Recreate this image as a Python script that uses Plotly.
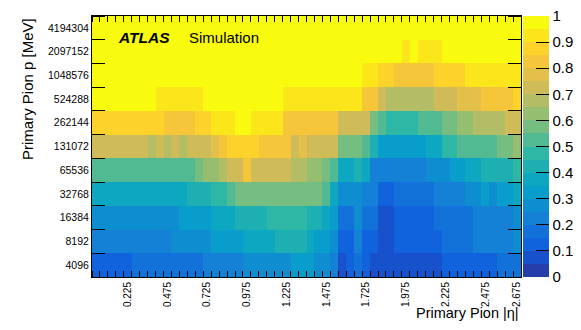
import numpy as np
import plotly.graph_objects as go

# |eta| bins (0.05 wide) and momentum bins (powers of two)
eta_edges = np.round(np.arange(0, 2.7001, 0.05), 3)
p_labels = ["4096", "8192", "16384", "32768", "65536", "131072",
            "262144", "524288", "1048576", "2097152", "4194304"]
eta_labels = ["0.225", "0.475", "0.725", "0.975", "1.225", "1.475",
              "1.725", "1.975", "2.225", "2.475", "2.675"]
eta_label_pos = [0.225, 0.475, 0.725, 0.975, 1.225, 1.475,
                 1.725, 1.975, 2.225, 2.475, 2.675]
z_ticks = [0, 0.1, 0.2, 0.3, 0.4, 0.5, 0.6, 0.7, 0.8, 0.9, 1]
z_ticktext = ["0", "0.1", "0.2", "0.3", "0.4", "0.5", "0.6", "0.7", "0.8", "0.9", "1"]

# efficiency per |eta| bin, one list per momentum bin
p_4096 = [0.13, 0.13, 0.13, 0.13, 0.13, 0.18, 0.18, 0.18, 0.18, 0.18, 0.18, 0.18, 0.18, 0.18,
          0.23, 0.23, 0.23, 0.23, 0.23, 0.28, 0.28, 0.28, 0.28, 0.28, 0.28, 0.33, 0.33, 0.33,
          0.28, 0.28, 0.23, 0.08, 0.13, 0.18, 0.13, 0.08, 0.08, 0.08, 0.08, 0.08, 0.08, 0.08,
          0.08, 0.08, 0.13, 0.13, 0.13, 0.13, 0.13, 0.13, 0.13, 0.18, 0.18, 0.18]
p_8192 = [0.23, 0.23, 0.23, 0.23, 0.23, 0.23, 0.23, 0.23, 0.23, 0.23, 0.28, 0.28, 0.28, 0.28,
          0.28, 0.33, 0.33, 0.33, 0.33, 0.38, 0.38, 0.38, 0.38, 0.43, 0.43, 0.43, 0.43, 0.38,
          0.33, 0.33, 0.28, 0.13, 0.13, 0.23, 0.13, 0.13, 0.08, 0.08, 0.13, 0.13, 0.13, 0.13,
          0.13, 0.13, 0.18, 0.18, 0.18, 0.18, 0.23, 0.23, 0.23, 0.23, 0.23, 0.28]
p_16384 = [0.28, 0.28, 0.28, 0.28, 0.28, 0.28, 0.28, 0.28, 0.28, 0.28, 0.28, 0.33, 0.33, 0.33,
           0.33, 0.38, 0.38, 0.38, 0.43, 0.43, 0.43, 0.43, 0.48, 0.48, 0.48, 0.48, 0.48, 0.43,
           0.43, 0.38, 0.33, 0.18, 0.18, 0.28, 0.18, 0.18, 0.08, 0.08, 0.13, 0.13, 0.13, 0.13,
           0.13, 0.18, 0.18, 0.18, 0.18, 0.18, 0.23, 0.23, 0.23, 0.23, 0.23, 0.28]
p_32768 = [0.38, 0.38, 0.38, 0.38, 0.38, 0.38, 0.38, 0.38, 0.38, 0.38, 0.38, 0.38, 0.43, 0.43,
           0.43, 0.48, 0.48, 0.53, 0.58, 0.58, 0.58, 0.58, 0.58, 0.58, 0.58, 0.58, 0.58, 0.58,
           0.58, 0.53, 0.38, 0.28, 0.28, 0.28, 0.23, 0.23, 0.13, 0.13, 0.18, 0.18, 0.18, 0.18,
           0.18, 0.23, 0.23, 0.23, 0.23, 0.28, 0.28, 0.33, 0.28, 0.33, 0.33, 0.38]
p_65536 = [0.53, 0.53, 0.53, 0.53, 0.53, 0.53, 0.53, 0.53, 0.53, 0.53, 0.53, 0.53, 0.53, 0.58,
           0.63, 0.63, 0.68, 0.73, 0.73, 0.83, 0.73, 0.73, 0.73, 0.73, 0.73, 0.68, 0.68, 0.63,
           0.63, 0.58, 0.53, 0.38, 0.38, 0.43, 0.38, 0.23, 0.23, 0.23, 0.23, 0.23, 0.23, 0.23,
           0.28, 0.28, 0.28, 0.33, 0.33, 0.38, 0.38, 0.43, 0.43, 0.43, 0.43, 0.48]
p_131072 = [0.73, 0.73, 0.73, 0.73, 0.73, 0.73, 0.73, 0.68, 0.73, 0.68, 0.73, 0.68, 0.73, 0.73,
            0.73, 0.78, 0.83, 0.88, 0.88, 0.88, 0.88, 0.83, 0.83, 0.83, 0.83, 0.73, 0.78, 0.73,
            0.73, 0.73, 0.73, 0.58, 0.58, 0.58, 0.53, 0.43, 0.33, 0.33, 0.33, 0.33, 0.33, 0.33,
            0.38, 0.38, 0.48, 0.48, 0.53, 0.53, 0.53, 0.53, 0.53, 0.58, 0.58, 0.63]
p_262144 = [0.88, 0.88, 0.88, 0.88, 0.88, 0.88, 0.88, 0.88, 0.88, 0.83, 0.83, 0.83, 0.83, 0.88,
            0.88, 0.93, 0.93, 0.93, 0.97, 0.97, 0.93, 0.93, 0.93, 0.93, 0.83, 0.83, 0.83, 0.83,
            0.83, 0.83, 0.83, 0.73, 0.73, 0.73, 0.73, 0.58, 0.53, 0.48, 0.48, 0.48, 0.48, 0.53,
            0.53, 0.53, 0.58, 0.58, 0.63, 0.63, 0.68, 0.68, 0.68, 0.68, 0.73, 0.73]
p_524288 = [0.97, 0.97, 0.97, 0.97, 0.97, 0.97, 0.97, 0.97, 0.93, 0.93, 0.93, 0.93, 0.93, 0.93,
            0.97, 0.97, 0.97, 0.97, 0.97, 0.97, 0.97, 0.97, 0.97, 0.97, 0.93, 0.93, 0.93, 0.93,
            0.93, 0.93, 0.93, 0.93, 0.93, 0.93, 0.83, 0.83, 0.73, 0.68, 0.68, 0.68, 0.68, 0.68,
            0.68, 0.73, 0.73, 0.73, 0.78, 0.78, 0.78, 0.83, 0.83, 0.83, 0.83, 0.88]
p_1048576 = [0.98, 0.98, 0.98, 0.98, 0.98, 0.98, 0.98, 0.98, 0.98, 0.98, 0.98, 0.98, 0.98, 0.98,
             0.98, 0.98, 0.98, 0.98, 0.98, 0.98, 0.98, 0.98, 0.98, 0.98, 0.98, 0.98, 0.98, 0.98,
             0.98, 0.98, 0.98, 0.98, 0.98, 0.98, 0.93, 0.93, 0.88, 0.88, 0.83, 0.83, 0.83, 0.83,
             0.83, 0.88, 0.88, 0.88, 0.88, 0.93, 0.93, 0.93, 0.93, 0.93, 0.93, 0.93]
p_2097152 = [0.98, 0.98, 0.98, 0.98, 0.98, 0.98, 0.98, 0.98, 0.98, 0.98, 0.98, 0.98, 0.98, 0.98,
             0.98, 0.98, 0.98, 0.98, 0.98, 0.98, 0.98, 0.98, 0.98, 0.98, 0.98, 0.98, 0.98, 0.98,
             0.98, 0.98, 0.98, 0.98, 0.98, 0.98, 0.98, 0.98, 0.98, 0.98, 0.98, 0.94, 0.98, 0.93,
             0.93, 0.93, 0.98, 0.98, 0.98, 0.98, 0.98, 0.98, 0.98, 0.98, 0.98, 0.98]
p_4194304 = [0.99, 0.99, 0.99, 0.99, 0.99, 0.99, 0.99, 0.99, 0.99, 0.99, 0.99, 0.99, 0.99, 0.99,
             0.99, 0.99, 0.99, 0.99, 0.99, 0.99, 0.99, 0.99, 0.99, 0.99, 0.99, 0.99, 0.99, 0.99,
             0.99, 0.99, 0.99, 0.99, 0.99, 0.99, 0.99, 0.99, 0.99, 0.99, 0.99, 0.99, 0.99, 0.99,
             0.99, 0.99, 0.99, 0.99, 0.99, 0.99, 0.99, 0.99, 0.99, 0.99, 0.99, 0.99]

z = [p_4096, p_8192, p_16384, p_32768, p_65536, p_131072,
     p_262144, p_524288, p_1048576, p_2097152, p_4194304]
for row in z:
    assert len(row) == 54, len(row)

# ROOT kBird palette, 20 contour levels
stops = [0.0, 0.125, 0.25, 0.375, 0.5, 0.625, 0.75, 0.875, 1.0]
red = [0.2082, 0.0592, 0.0780, 0.0232, 0.1802, 0.5301, 0.8186, 0.9956, 0.9764]
green = [0.1664, 0.3599, 0.5041, 0.6419, 0.7178, 0.7492, 0.7328, 0.7862, 0.9832]
blue = [0.5293, 0.8684, 0.8385, 0.7914, 0.6425, 0.4662, 0.3499, 0.1968, 0.0539]

def bird(f):
    r, g, b = (np.interp(f, stops, c) * 255 for c in (red, green, blue))
    return "rgb(%d,%d,%d)" % (round(r), round(g), round(b))

ndiv = 20
cscale = []
for i in range(ndiv):
    c = bird((i + 0.99) / ndiv)
    cscale += [[i / ndiv, c], [(i + 1) / ndiv, c]]

font = "Liberation Sans, Arial, sans-serif"
y_edges = np.arange(len(p_labels) + 1) - 0.5

fig = go.Figure(go.Heatmap(
    z=z, x=eta_edges, y=y_edges, zmin=0, zmax=1, colorscale=cscale,
    colorbar=dict(x=1.005, xanchor="left", xpad=0, y=0.5, len=1, ypad=0,
                  thickness=26, outlinewidth=0, ticks="inside", ticklen=13,
                  tickcolor="black", tickmode="array", tickvals=z_ticks,
                  ticktext=z_ticktext, ticklabeloverflow="allow",
                  tickfont=dict(family=font, size=15, color="black")),
))

fig.update_xaxes(range=[0, 2.7], tickmode="array", tickvals=eta_label_pos,
                 ticktext=eta_labels, tickangle=-90, ticks="",
                 tickfont=dict(family=font, size=10, color="black"),
                 minor=dict(tickmode="linear", tick0=0, dtick=0.05, ticks="inside",
                            ticklen=6, tickcolor="black"),
                 showline=True, linecolor="black", linewidth=1, mirror="allticks",
                 showgrid=False, zeroline=False)
fig.update_yaxes(range=[-0.5, 10.5], tickmode="array",
                 tickvals=list(range(len(p_labels))), ticktext=p_labels, ticks="",
                 tickfont=dict(family=font, size=10.5, color="black"),
                 minor=dict(tickmode="linear", tick0=-0.5, dtick=1, ticks="inside",
                            ticklen=13, tickcolor="black"),
                 showline=True, linecolor="black", linewidth=1, mirror="allticks",
                 showgrid=False, zeroline=False)

fig.add_annotation(text="<b><i>ATLAS</i></b>", xref="paper", yref="paper",
                   x=(116 - 92) / 429, y=(277 - 37.5) / 261, xanchor="left",
                   yanchor="middle", showarrow=False,
                   font=dict(family=font, size=15.5, color="black"))
fig.add_annotation(text="Simulation", xref="paper", yref="paper",
                   x=(187 - 92) / 429, y=(277 - 37.5) / 261, xanchor="left",
                   yanchor="middle", showarrow=False,
                   font=dict(family=font, size=15, color="black"))
fig.add_annotation(text="Primary Pion |η|", xref="paper", yref="paper",
                   x=1, y=(277 - 313) / 261, xanchor="right", yanchor="middle",
                   showarrow=False, font=dict(family=font, size=14.5, color="black"))
fig.add_annotation(text="Primary Pion p [MeV]", xref="paper", yref="paper",
                   x=(27 - 92) / 429, y=1, xanchor="center", yanchor="top",
                   textangle=-90, showarrow=False,
                   font=dict(family=font, size=15, color="black"))

# page body adds an 8 px offset, so the figure is 8 px smaller and margins shifted
fig.update_layout(width=573, height=322,
                  margin=dict(l=84, r=60, t=8, b=53, autoexpand=False),
                  paper_bgcolor="white", plot_bgcolor="white", showlegend=False)

fig.write_html("out.html")
